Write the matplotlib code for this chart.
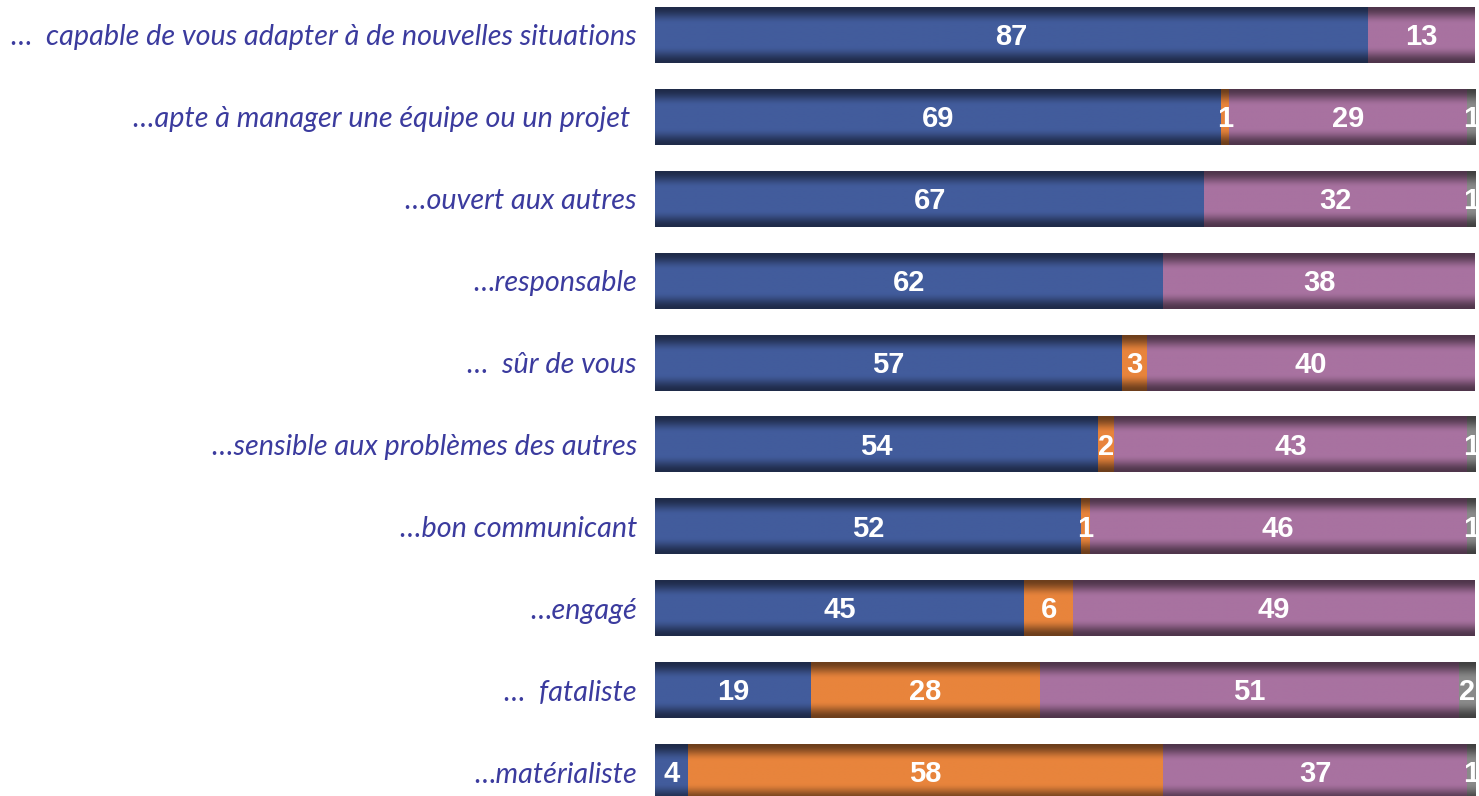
import matplotlib
matplotlib.use("Agg")
import matplotlib.pyplot as plt
import numpy as np

# catégories (de haut en bas)
labels = [
    "…  capable de vous adapter à de nouvelles situations",
    "…apte à manager une équipe ou un projet ",
    "…ouvert aux autres",
    "…responsable",
    "…  sûr de vous",
    "…sensible aux problèmes des autres",
    "…bon communicant",
    "…engagé",
    "…  fataliste",
    "…matérialiste",
]
bleu = [87, 69, 67, 62, 57, 54, 52, 45, 19, 4]
orange = [0, 1, 0, 0, 3, 2, 1, 6, 28, 58]
violet = [13, 29, 32, 38, 40, 43, 46, 49, 51, 37]
gris = [0, 1, 1, 0, 0, 1, 1, 0, 2, 1]

series = [bleu, orange, violet, gris]
couleurs = ["#425C9C", "#E8843C", "#A872A0", "#8A8A8A"]

W, H = 1479, 796
fig = plt.figure(figsize=(W / 100, H / 100), dpi=100)
ax = fig.add_axes([655 / W, 0, 820 / W, 1])

y = np.arange(len(labels))
n = 80
t = np.linspace(0, 1, n)
d = np.clip(np.minimum(t, 1 - t) * 2 / 0.6, 0, 1)
fac = 0.47 + 0.53 * (d * d * (3 - 2 * d))

left = np.zeros(len(labels))
for vals, c in zip(series, couleurs):
    vals = np.array(vals, dtype=float)
    bars = ax.barh(y, vals, left=left, height=0.68, color=c, linewidth=0)
    rgb = np.array(matplotlib.colors.to_rgb(c))
    grad = (fac[:, None] * rgb[None, :])[:, None, :]
    for b, v in zip(bars, vals):
        if v <= 0:
            continue
        x0, y0 = b.get_x(), b.get_y()
        w, h = b.get_width(), b.get_height()
        ax.imshow(grad, extent=[x0, x0 + w, y0 + h, y0], aspect="auto",
                  interpolation="bilinear", zorder=2)
        ax.text(x0 + w / 2, y0 + h / 2 + 0.025, f"{int(v)}", ha="center",
                va="center", color="white", fontsize=21, fontweight="bold",
                family="Liberation Sans", zorder=3)
    left += vals

ax.set_xlim(0, 100)
ax.set_ylim(9.29, -0.427)
ax.set_yticks(y)
ax.set_yticklabels(labels, fontsize=20.7, style="italic", color="#3B3B9E",
                   family="Lato", va="center_baseline")
ax.tick_params(axis="y", length=0, pad=13)
ax.set_xticks([])
for s in ax.spines.values():
    s.set_visible(False)

fig.savefig("out.png", dpi=100)
